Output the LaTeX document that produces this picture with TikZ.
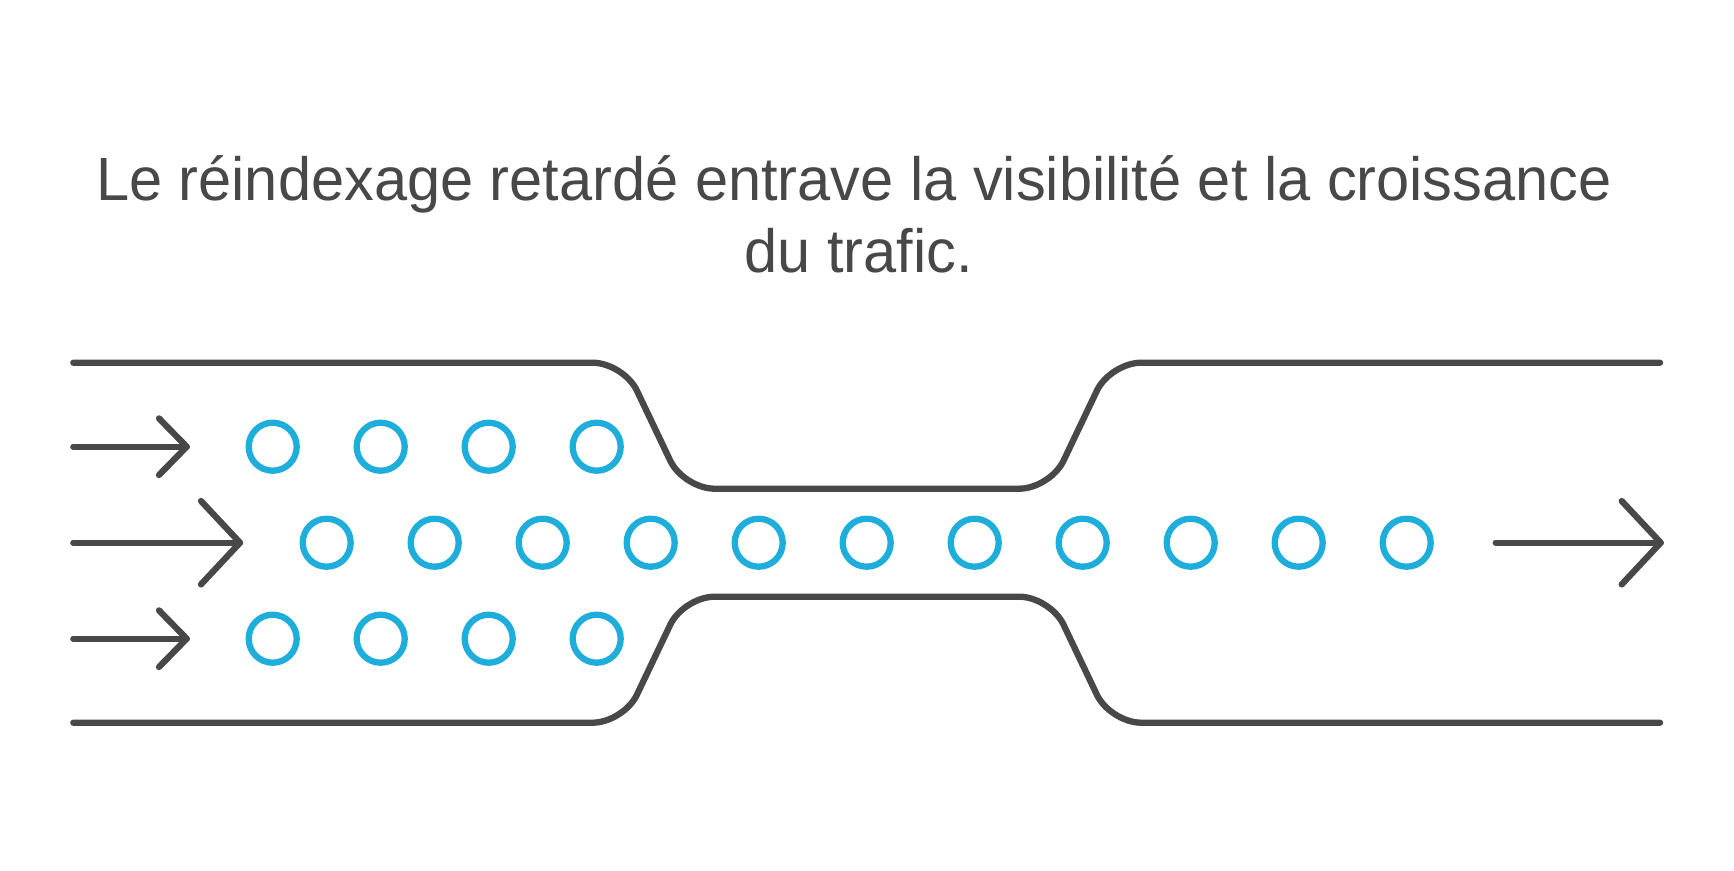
\documentclass[tikz,border=0pt]{standalone}
\usepackage{fontspec}
\setmainfont{Liberation Sans}
\definecolor{ink}{HTML}{484848}
\definecolor{dot}{HTML}{1FAEDC}
\begin{document}
\begin{tikzpicture}[x=1pt,y=-1pt,
  pipe/.style={draw=ink,line width=6.3pt,line cap=round,line join=round,rounded corners=31pt},
  flow/.style={draw=ink,line width=6.3pt,line cap=round,line join=round},
  ball/.style={circle,draw=dot,line width=6.3pt,minimum size=48pt,inner sep=0pt},
  title/.style={text=ink,font=\fontsize{61}{72}\selectfont,inner sep=0pt,anchor=base}]
\fill[white] (0,0) rectangle (1734,870);
\useasboundingbox (0,0) rectangle (1734,870);
% title
\node[title] (t1) at (854,200.7) {\scalebox{0.976}[1]{Le réindexage retardé entrave la visibilité et la croissance}};
\node[title] (t2) at (858.6,272) {\scalebox{0.976}[1]{du trafic.}};
% pipe walls
\coordinate (ta) at (73.3,362.7);
\coordinate (tb) at (623.6,362.7);
\coordinate (tc) at (683.6,488.7);
\coordinate (td) at (1050.2,488.7);
\coordinate (te) at (1110.2,362.7);
\coordinate (tf) at (1660,362.7);
\coordinate (ba) at (73.3,722.7);
\coordinate (bb) at (623.6,722.7);
\coordinate (bc) at (683.6,596.7);
\coordinate (bd) at (1050.2,596.7);
\coordinate (be) at (1110.2,722.7);
\coordinate (bf) at (1660,722.7);
\draw[pipe] (ta) -- (tb) -- (tc) -- (td) -- (te) -- (tf);
\draw[pipe] (ba) -- (bb) -- (bc) -- (bd) -- (be) -- (bf);
% arrows
\coordinate (a1s) at (73.3,446.7);
\coordinate (a1t) at (186.7,446.7);
\coordinate (a1u) at (159,418.4);
\coordinate (a1d) at (159,475);
\draw[flow] (a1s) -- (a1t);
\draw[flow] (a1u) -- (a1t) -- (a1d);
\coordinate (a2s) at (73.3,542.7);
\coordinate (a2t) at (240,542.7);
\coordinate (a2u) at (201,501);
\coordinate (a2d) at (201,584.4);
\draw[flow] (a2s) -- (a2t);
\draw[flow] (a2u) -- (a2t) -- (a2d);
\coordinate (a3s) at (73.3,638.7);
\coordinate (a3t) at (186.7,638.7);
\coordinate (a3u) at (159,610.4);
\coordinate (a3d) at (159,667);
\draw[flow] (a3s) -- (a3t);
\draw[flow] (a3u) -- (a3t) -- (a3d);
\coordinate (a4s) at (1495.7,542.7);
\coordinate (a4t) at (1660.7,542.7);
\coordinate (a4u) at (1621.7,501);
\coordinate (a4d) at (1621.7,584.4);
\draw[flow] (a4s) -- (a4t);
\draw[flow] (a4u) -- (a4t) -- (a4d);
% balls
\foreach \i in {0,...,3} {
  \node[ball] (u\i) at (272.7+108*\i,446.7) {};
  \node[ball] (l\i) at (272.7+108*\i,638.7) {};
}
\foreach \i in {0,...,10} {
  \node[ball] (m\i) at (326.7+108*\i,542.7) {};
}
\end{tikzpicture}
\end{document}
